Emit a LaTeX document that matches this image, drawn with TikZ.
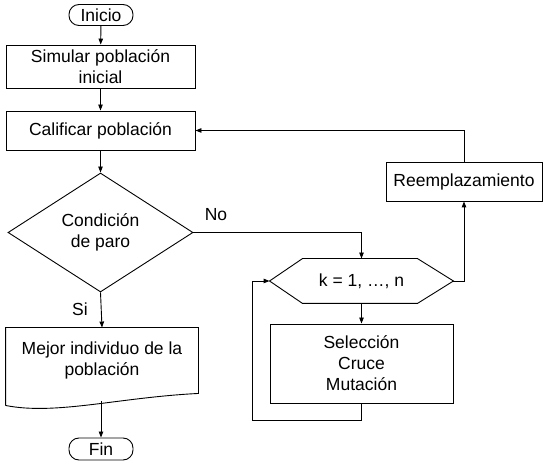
\documentclass[tikz,border=0pt]{standalone}
\usepackage{fontspec}
\setmainfont{Liberation Sans}
\usetikzlibrary{arrows.meta,calc,shapes.geometric}
\begin{document}
\begin{tikzpicture}[x=1pt,y=-1pt,
  every node/.style={font=\fontsize{17.5}{21}\selectfont, align=center, inner sep=0pt, line width=0.9pt},
  box/.style={draw, rectangle},
  term/.style={draw, rectangle, rounded corners=10pt, minimum width=64, minimum height=21},
  arr/.style={-{Triangle[length=6pt,width=4.5pt]}, line width=0.9pt},
  ln/.style={line width=0.9pt}]
\useasboundingbox[fill=white] (0,0) rectangle (547,470);

\node[term] (inicio) at (101,15) {Inicio};
\node[box, minimum width=189, minimum height=43] (simular) at (100.5,66.5) {Simular población\\inicial};
\node[box, minimum width=189, minimum height=39] (calif) at (100.5,130.5) {Calificar población};
\node[draw, diamond, minimum width=185, minimum height=119] (cond) at (100.5,232.5) {Condición\\de paro};
\node[rectangle, minimum width=192, minimum height=77] (docbox) at (102,366.5) {};
\node (doctext) at (102,360) {Mejor individuo de la\\población};
\coordinate (docbot) at (101,401);
\node[term, minimum height=22] (fin) at (101,449) {Fin};

\node[rectangle, minimum width=183, minimum height=44] (hex) at (361.5,281) {k = 1, …, n};
\node[box, minimum width=183, minimum height=79] (sel) at (361.5,363.5) {Selección\\Cruce\\Mutación};
\node[box, minimum width=156, minimum height=39] (reemp) at (464,181.5) {Reemplazamiento};

% document shape
\draw[ln] (docbox.south west) -- (docbox.north west) -- (docbox.north east) -- ($(docbox.south east)+(0,-12)$)
  .. controls ($(docbox.south east)+(-80,-8)$) and ($(docbox.south west)+(50,10)$) .. (docbox.south west);
% hexagon
\draw[ln] (hex.west) -- ($(hex.north west)+(33,0)$) -- ($(hex.north east)+(-36,0)$) -- (hex.east)
  -- ($(hex.south east)+(-36,0)$) -- ($(hex.south west)+(33,0)$) -- cycle;

\draw[arr] (inicio) -- (simular);
\draw[arr] (simular) -- (calif);
\draw[arr] (calif) -- (cond);
\draw[arr] (cond.east) -| (hex.north);
\node (no) at (216,215) {No};
\draw[arr] (cond.south) -- (docbox.north);
\node (si) at (80,309) {Si};
\draw[arr] (docbot) -- (fin.north);
\draw[arr] (hex.south) -- (sel.north);
\draw[arr] (sel.south) -- ($(sel.south)+(0,17)$) -| ($(hex.west)+(-17,0)$) -- (hex.west);
\draw[arr] (hex.east) -| (reemp.south);
\draw[arr] (reemp.north) |- (calif.east);
\end{tikzpicture}
\end{document}
